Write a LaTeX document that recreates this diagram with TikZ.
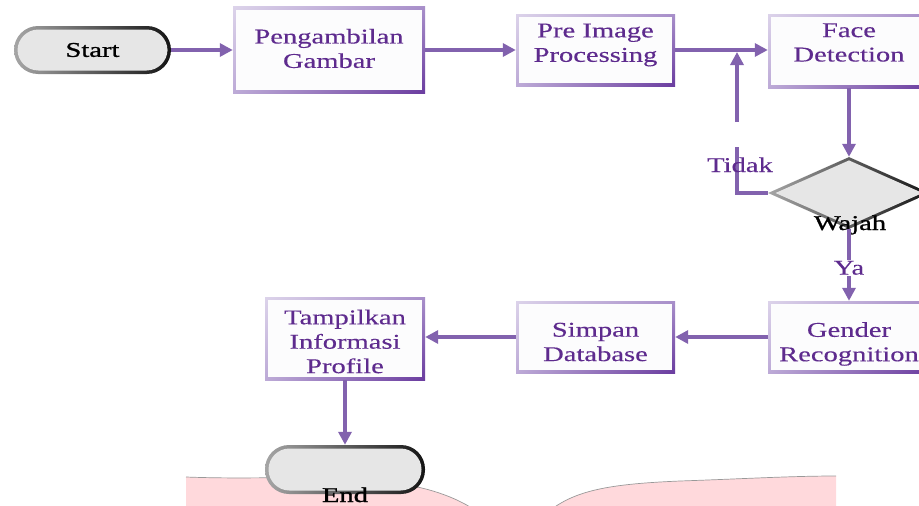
\documentclass[tikz,border=0pt]{standalone}
\usepackage{fontspec}
\setmainfont{Liberation Serif}[FakeStretch=1.36, FakeBold=0.3]
\newfontfamily\blkfont{Liberation Serif}[FakeStretch=1.36, FakeBold=1.2]
\usetikzlibrary{arrows.meta,shapes.geometric,shadings}
\definecolor{arrc}{HTML}{8262AE}
\definecolor{txtc}{HTML}{5E2B8E}
\definecolor{bl}{HTML}{DCD3EA}
\definecolor{bm}{HTML}{A88FCA}
\definecolor{bd}{HTML}{6A3C9F}
\definecolor{bfill}{HTML}{FCFCFD}
\definecolor{tfill}{HTML}{E6E6E6}
\definecolor{pinkf}{HTML}{FFD9DC}
\tikzset{
  fnt/.style={font=\fontsize{21}{24.4}\selectfont},
  bfnt/.style={font=\blkfont\fontsize{21}{24.4}\selectfont},
  lbl/.style={fnt, text=txtc, align=center, inner sep=0pt},
  pbox/.style={rectangle, inner sep=0pt,
    path picture={
      \shade[upper left=bl, upper right=bm, lower left=bm!60!bl, lower right=bd]
        (path picture bounding box.south west) rectangle (path picture bounding box.north east);
      \fill[bfill] ([shift={(3.2pt,3.2pt)}]path picture bounding box.south west)
        rectangle ([shift={(-3.2pt,-3.2pt)}]path picture bounding box.north east);
    }},
  term/.style={rectangle, rounded corners=24pt, inner sep=0pt, bfnt, text=black,
    path picture={
      \shade[left color=black!35, right color=black!92]
        (path picture bounding box.south west) rectangle (path picture bounding box.north east);
      \fill[tfill, rounded corners=21pt] ([shift={(3.5pt,3.5pt)}]path picture bounding box.south west)
        rectangle ([shift={(-3.5pt,-3.5pt)}]path picture bounding box.north east);
    }},
  dia/.style={diamond, inner sep=0pt, minimum width=162pt, minimum height=72pt,
    path picture={
      \shade[left color=black!35, right color=black!92]
        (path picture bounding box.south west) rectangle (path picture bounding box.north east);
      \fill[tfill] ([xshift=-73.5pt]path picture bounding box.center)
        -- ([yshift=32.6pt]path picture bounding box.center)
        -- ([xshift=73.5pt]path picture bounding box.center)
        -- ([yshift=-32.6pt]path picture bounding box.center) -- cycle;
    }},
  arr/.style={draw=arrc, line width=3.3pt, -{Triangle[length=13pt,width=13pt]}},
  arrline/.style={draw=arrc, line width=3.3pt},
}
\begin{document}
\begin{tikzpicture}[x=1pt,y=-1pt]
\useasboundingbox (0,0) rectangle (919,506);
\clip (0,0) rectangle (919,506);

% pink background shape
\fill[pinkf] (186,512) -- (186,477) .. controls (240,479) and (270,477) .. (320,478)
  .. controls (390,479) and (440,486) .. (478,512) -- (548,512)
  .. controls (575,490) and (610,484) .. (680,481)
  .. controls (740,479) and (790,476) .. (836,476) -- (836,512) -- cycle;
\draw[black!40, line width=0.7pt] (186,477) .. controls (240,479) and (270,477) .. (320,478)
  .. controls (390,479) and (440,486) .. (478,512);
\draw[black!40, line width=0.7pt] (548,512)
  .. controls (575,490) and (610,484) .. (680,481)
  .. controls (740,479) and (790,476) .. (836,476);

% nodes
\node[term, minimum width=157pt, minimum height=48pt] (start) at (92.5,50) {Start};
\node[pbox, minimum width=192pt, minimum height=87pt,
  label={[lbl, yshift=1.5pt]center:{Pengambilan\\Gambar}}] (peng) at (329,50) {};
\node[pbox, minimum width=159pt, minimum height=72pt,
  label={[lbl, yshift=5pt]center:{Pre Image\\Processing}}] (pre) at (595.5,50) {};
\node[pbox, minimum width=162pt, minimum height=74pt,
  label={[lbl, yshift=8.5pt]center:{Face\\Detection}}] (face) at (849,51) {};
\node[dia] (dec) at (849,193) {};
\node[bfnt, text=black, inner sep=0pt, anchor=base] (wajah) at (850,230) {Wajah};
\node[pbox, minimum width=162pt, minimum height=72pt,
  label={[lbl, yshift=-7pt]center:{Gender\\Recognition}}] (gender) at (849,337) {};
\node[pbox, minimum width=159pt, minimum height=72pt,
  label={[lbl, yshift=-5pt]center:{Simpan\\Database}}] (simpan) at (595.5,337) {};
\node[pbox, minimum width=160pt, minimum height=83pt,
  label={[lbl, yshift=-3pt]center:{Tampilkan\\Informasi\\Profile}}] (tamp) at (345,338.5) {};
\node[term, minimum width=160pt, minimum height=49pt] (end) at (345,469.5) {};
\node[bfnt, text=black, inner sep=0pt, anchor=base] (endtxt) at (345,502) {End};

% connectors
\draw[arr] (start.east) -- (peng.west);
\draw[arr] (peng.east) -- (pre.west);
\draw[arr] (pre.east) -- (pre.east -| face.west);
\draw[arr] (face.south) -- (dec.north);
\coordinate (tb) at (737,147);
\coordinate (tt) at (737,122);
\coordinate (tm) at (737,52);
\draw[arrline] (dec.west) -| (tb);
\draw[arr] (tt) -- (tm);
\node[lbl, anchor=base] (tidak) at (740,172) {Tidak};
\draw[arr] (dec.south) -- node[lbl, fill=white, inner sep=1pt, pos=0.54] (ya) {Ya} (gender.north);
\draw[arr] (gender.west) -- (simpan.east);
\draw[arr] (simpan.west) -- (simpan.west -| tamp.east);
\draw[arr] (tamp.south) -- (end.north);
\end{tikzpicture}
\end{document}
